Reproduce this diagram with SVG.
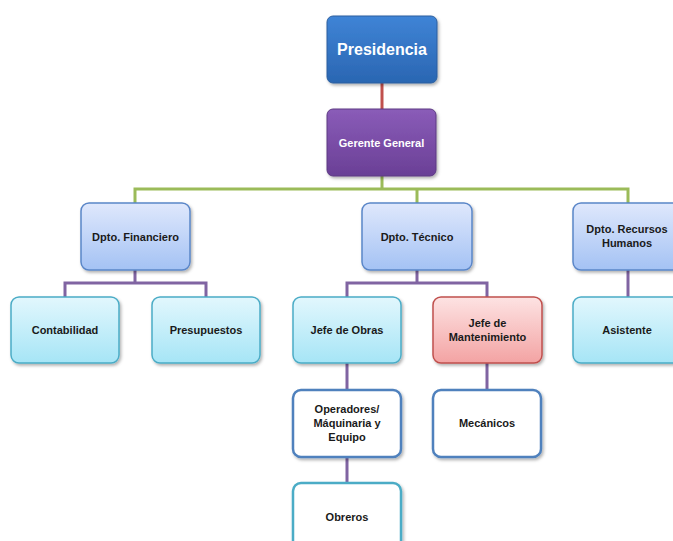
<svg xmlns="http://www.w3.org/2000/svg" width="673" height="541" viewBox="0 0 673 541">
<defs>
<linearGradient id="gBlue" x1="0" y1="0" x2="0" y2="1"><stop offset="0" stop-color="#3f84d6"/><stop offset="1" stop-color="#2a66b2"/></linearGradient>
<linearGradient id="gPurple" x1="0" y1="0" x2="0" y2="1"><stop offset="0" stop-color="#8a5cb8"/><stop offset="1" stop-color="#6a3f96"/></linearGradient>
<linearGradient id="gDept" x1="0" y1="0" x2="0" y2="1"><stop offset="0" stop-color="#dfe8fc"/><stop offset="1" stop-color="#a4c2f4"/></linearGradient>
<linearGradient id="gCyan" x1="0" y1="0" x2="0" y2="1"><stop offset="0" stop-color="#e2f7fd"/><stop offset="1" stop-color="#a6e5f6"/></linearGradient>
<linearGradient id="gRed" x1="0" y1="0" x2="0" y2="1"><stop offset="0" stop-color="#fde3e3"/><stop offset="1" stop-color="#f3a3a3"/></linearGradient>
<filter id="sh" x="-10%" y="-10%" width="125%" height="130%"><feDropShadow dx="1.5" dy="2" stdDeviation="1.5" flood-color="#000" flood-opacity="0.3"/></filter>
</defs>
<style>
.t{font-family:"Liberation Sans",Arial,sans-serif;font-weight:bold;font-size:11px;fill:#1a1a1a;text-anchor:middle}
.w{fill:#fff}
.dept{fill:url(#gDept);stroke:#5a86c8;stroke-width:1.5}
.cyan{fill:url(#gCyan);stroke:#4bacc6;stroke-width:1.5}
.red{fill:url(#gRed);stroke:#c0504d;stroke-width:1.5}
.wb{fill:#fff;stroke:#4f81bd;stroke-width:2.5}
.wc{fill:#fff;stroke:#4bacc6;stroke-width:2.5}
.g{stroke:#9bbb59;stroke-width:3;fill:none}
.p{stroke:#8064a2;stroke-width:3;fill:none}
.r{stroke:#c0504d;stroke-width:3;fill:none}
</style>
<g id="connectors">
<path class="r" d="M382 83V110"/>
<path class="g" d="M382 176V189M135 204V189H628V204M417 189V204"/>
<path class="p" d="M135 270V283M65 297V283H206V297"/>
<path class="p" d="M417 270V283M347 297V283H487V297"/>
<path class="p" d="M628 270V297"/>
<path class="p" d="M347 363V390M487 363V390M347 457V483"/>
</g>
<g id="presidencia"><rect x="327" y="16" width="110" height="67" rx="6" fill="url(#gBlue)" stroke="#2d5f9e" stroke-width="1" filter="url(#sh)"/><text class="t w" x="382" y="55" style="font-size:16px">Presidencia</text></g>
<g id="gerente"><rect x="327" y="109" width="109" height="67" rx="6" fill="url(#gPurple)" stroke="#5c3a82" stroke-width="1" filter="url(#sh)"/><text class="t w" x="381.5" y="146.5">Gerente General</text></g>
<g id="financiero"><rect class="dept" x="81" y="203" width="109" height="67" rx="8" filter="url(#sh)"/><text class="t" x="135.5" y="241">Dpto. Financiero</text></g>
<g id="tecnico"><rect class="dept" x="362" y="203" width="110" height="67" rx="8" filter="url(#sh)"/><text class="t" x="417" y="241">Dpto. Técnico</text></g>
<g id="rrhh"><rect class="dept" x="573" y="203" width="110" height="67" rx="8" filter="url(#sh)"/><text class="t" x="627" y="233">Dpto. Recursos</text><text class="t" x="627" y="247">Humanos</text></g>
<g id="contabilidad"><rect class="cyan" x="11" y="297" width="108" height="66" rx="8" filter="url(#sh)"/><text class="t" x="65" y="334">Contabilidad</text></g>
<g id="presupuestos"><rect class="cyan" x="152" y="297" width="108" height="66" rx="8" filter="url(#sh)"/><text class="t" x="206" y="334">Presupuestos</text></g>
<g id="jefeobras"><rect class="cyan" x="293" y="297" width="108" height="66" rx="8" filter="url(#sh)"/><text class="t" x="347" y="334">Jefe de Obras</text></g>
<g id="jefemant"><rect class="red" x="433" y="297" width="109" height="66" rx="8" filter="url(#sh)"/><text class="t" x="487.5" y="327">Jefe de</text><text class="t" x="487.5" y="341">Mantenimiento</text></g>
<g id="asistente"><rect class="cyan" x="573" y="297" width="110" height="66" rx="8" filter="url(#sh)"/><text class="t" x="627" y="334">Asistente</text></g>
<g id="operadores"><rect class="wb" x="293" y="390" width="108" height="67" rx="8" filter="url(#sh)"/><text class="t" x="347" y="413">Operadores/</text><text class="t" x="347" y="427">Máquinaria y</text><text class="t" x="347" y="441">Equipo</text></g>
<g id="mecanicos"><rect class="wb" x="433" y="390" width="108" height="67" rx="8" filter="url(#sh)"/><text class="t" x="487" y="427">Mecánicos</text></g>
<g id="obreros"><rect class="wc" x="293" y="483" width="108" height="70" rx="8" filter="url(#sh)"/><text class="t" x="347" y="521">Obreros</text></g>
</svg>
